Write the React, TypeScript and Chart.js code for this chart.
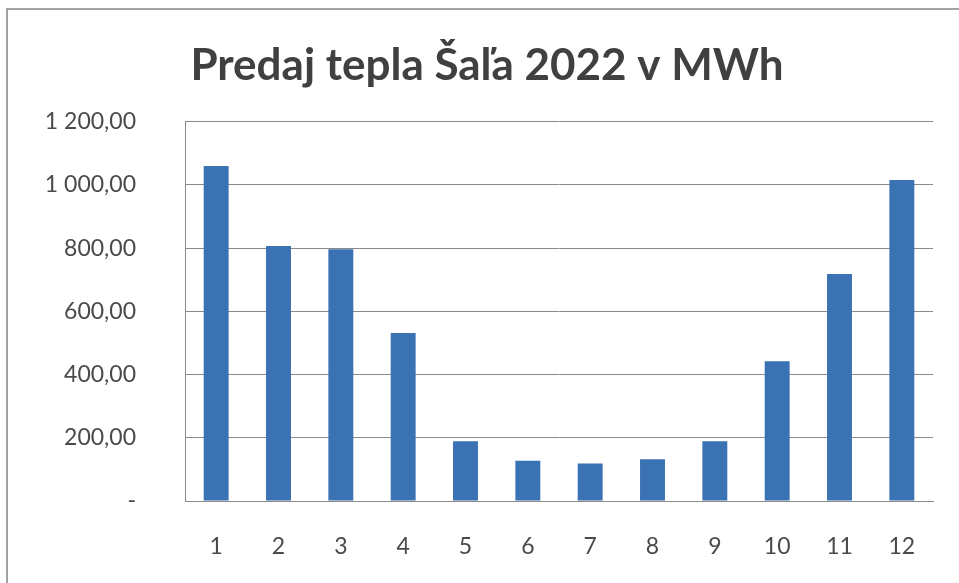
import React, { useEffect, useRef } from "react";
import { Chart, registerables } from "chart.js";

Chart.register(...registerables);

const TITLE = "Predaj tepla Šaľa 2022 v MWh";
const months = ["1", "2", "3", "4", "5", "6", "7", "8", "9", "10", "11", "12"];
const sales = [1060, 807, 797, 532, 189, 127, 119, 132, 189, 442, 718, 1016];
const yTickValues = [0, 200, 400, 600, 800, 1000, 1200];
const yTickLabels = ["-", "200,00", "400,00", "600,00", "800,00", "1 000,00", "1 200,00"];

export default function App() {
  const ref = useRef<HTMLCanvasElement | null>(null);

  useEffect(() => {
    document.body.style.margin = "0";
    const canvas = ref.current;
    if (!canvas) return;
    const chart = new Chart(canvas, {
      type: "bar",
      data: {
        labels: months,
        datasets: [
          {
            data: sales,
            backgroundColor: "#3a72b3",
            borderWidth: 0,
            barPercentage: 0.8,
            categoryPercentage: 0.5,
          },
        ],
      },
      options: {
        responsive: false,
        animation: false,
        maintainAspectRatio: false,
        layout: { padding: { left: 41, right: 26, top: 0, bottom: 0 } },
        plugins: {
          legend: { display: false },
          tooltip: { enabled: false },
          title: {
            display: true,
            text: TITLE,
            color: "#404040",
            font: { family: "Lato", size: 44, weight: "bold", lineHeight: 1.2 },
            padding: { top: 39, bottom: 30 },
          },
        },
        scales: {
          x: {
            grid: { display: false, drawTicks: false },
            border: { display: true, color: "#8a8a8a", width: 1 },
            ticks: {
              color: "#4a4a4a",
              font: { family: "Lato", size: 23 },
              padding: 32,
            },
            afterFit: (s: any) => {
              s.height = 82;
            },
          },
          y: {
            min: 0,
            max: 1200,
            afterBuildTicks: (s: any) => {
              s.ticks = yTickValues.map((v) => ({ value: v }));
            },
            grid: { color: "#8a8a8a", lineWidth: 1, drawTicks: false },
            border: { display: true, color: "#8a8a8a", width: 1 },
            ticks: {
              color: "#4a4a4a",
              font: { family: "Lato", size: 23 },
              padding: 49,
              callback: (v: any) => {
                const i = yTickValues.indexOf(Number(v));
                return i >= 0 ? yTickLabels[i] : "";
              },
            },
            afterFit: (s: any) => {
              s.width = 144;
            },
          },
        },
      },
    });
    return () => chart.destroy();
  }, []);

  return (
    <div style={{ position: "relative", width: 959, height: 583, overflow: "hidden", background: "#fff" }}>
      <div
        style={{
          position: "absolute",
          left: 6,
          top: 8,
          width: 1000,
          height: 1000,
          border: "2px solid #a3a3a3",
          boxSizing: "border-box",
        }}
      />
      <canvas ref={ref} width={959} height={583} style={{ position: "absolute", left: 0, top: 0 }} />
    </div>
  );
}
